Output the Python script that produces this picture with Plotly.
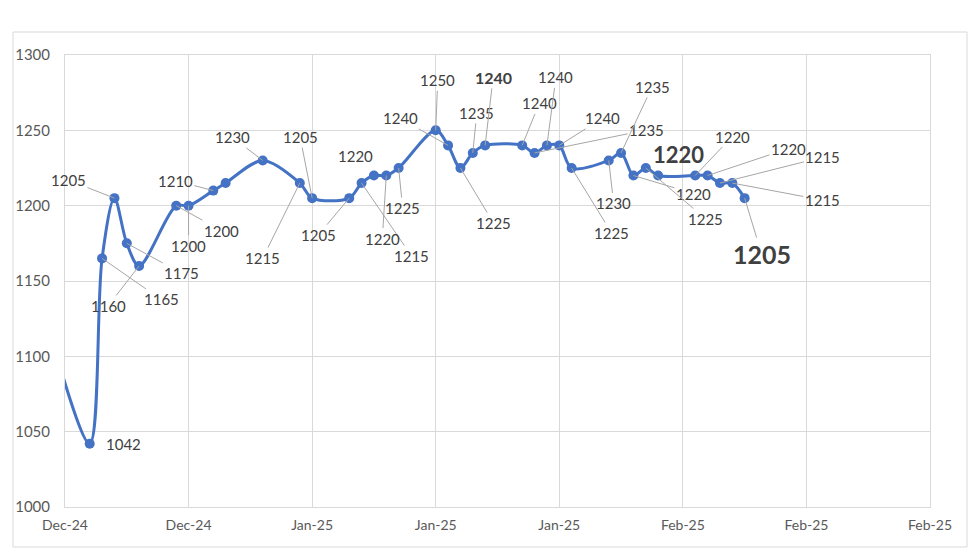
import plotly.graph_objects as go

# ---------------- data ----------------
dates = [
    "2024-12-13", "2024-12-16", "2024-12-17", "2024-12-18", "2024-12-19", "2024-12-20",
    "2024-12-23", "2024-12-24", "2024-12-26", "2024-12-27", "2024-12-30",
    "2025-01-02", "2025-01-03", "2025-01-06", "2025-01-07", "2025-01-08", "2025-01-09",
    "2025-01-10", "2025-01-13", "2025-01-14", "2025-01-15", "2025-01-16", "2025-01-17",
    "2025-01-20", "2025-01-21", "2025-01-22", "2025-01-23", "2025-01-24", "2025-01-27",
    "2025-01-28", "2025-01-29", "2025-01-30", "2025-01-31", "2025-02-03", "2025-02-04",
    "2025-02-05", "2025-02-06", "2025-02-07",
]
prices = [
    1110, 1042, 1165, 1205, 1175, 1160,
    1200, 1200, 1210, 1215, 1230,
    1215, 1205, 1205, 1215, 1220, 1220,
    1225, 1250, 1240, 1225, 1235, 1240,
    1240, 1235, 1240, 1240, 1225, 1230,
    1235, 1220, 1225, 1220, 1220, 1220,
    1215, 1215, 1205,
]
tick_dates = ["2024-12-14", "2024-12-24", "2025-01-03", "2025-01-13",
              "2025-01-23", "2025-02-02", "2025-02-12", "2025-02-22"]
tick_labels = ["Dec-24", "Dec-24", "Jan-25", "Jan-25", "Jan-25", "Feb-25", "Feb-25", "Feb-25"]
y_ticks = [1000, 1050, 1100, 1150, 1200, 1250, 1300]

# ---------------- label placement (pixel offsets, styles) ----------------
# date -> (dx, dy, leader, size, bold)
label_place = {
    "2024-12-16": (34, 0, False, 15, False),
    "2024-12-17": (59, 41, True, 15, False),
    "2024-12-18": (-46, -18, True, 15, False),
    "2024-12-19": (55, 30, True, 15, False),
    "2024-12-20": (-31, 40, True, 15, False),
    "2024-12-23": (45, 25, True, 15, False),
    "2024-12-24": (0, 40, True, 15, False),
    "2024-12-26": (-38, -10, True, 15, False),
    "2024-12-30": (-30, -23, True, 15, False),
    "2025-01-02": (-37, 75, True, 15, False),
    "2025-01-03": (-12, -61, True, 15, False),
    "2025-01-06": (-31, 37, True, 15, False),
    "2025-01-07": (50, 73, True, 15, False),
    "2025-01-08": (-18, -20, False, 15, False),
    "2025-01-09": (-4, 63, True, 15, False),
    "2025-01-10": (4, 40, True, 15, False),
    "2025-01-13": (2, -50, True, 15, False),
    "2025-01-14": (-48, -27, True, 15, False),
    "2025-01-15": (33, 55, True, 15, False),
    "2025-01-16": (4, -40, True, 15, False),
    "2025-01-17": (8, -68, True, 16, True),
    "2025-01-20": (17, -42, True, 15, False),
    "2025-01-21": (112, -23, True, 15, False),
    "2025-01-22": (9, -68, True, 15, False),
    "2025-01-23": (43, -27, True, 15, False),
    "2025-01-24": (40, 65, True, 15, False),
    "2025-01-27": (5, 43, True, 15, False),
    "2025-01-28": (31, -66, True, 15, False),
    "2025-01-29": (60, 18, True, 15, False),
    "2025-01-30": (60, 51, True, 15, False),
    "2025-01-31": (20, -21, False, 22, True),
    "2025-02-03": (37, -39, True, 15, False),
    "2025-02-04": (81, -27, True, 15, False),
    "2025-02-05": (103, -26, True, 15, False),
    "2025-02-06": (90, 17, True, 15, False),
    "2025-02-07": (17, 56, True, 25, True),
}

LINE_COLOR = "#4472C4"
TEXT_COLOR = "#404040"
GRID = "#d9d9d9"

# page has an 8px body margin; figure coordinates are page coordinates minus OFF
OFF = 8
FIG_W, FIG_H = 980 - OFF, 554 - OFF
L, R, T, B = 65 - OFF, 930 - OFF, 55 - OFF, 507 - OFF
W, H = R - L, B - T

fig = go.Figure()
fig.add_trace(go.Scatter(
    x=dates, y=prices, mode="lines+markers",
    line=dict(color=LINE_COLOR, width=3, shape="spline", smoothing=0.9),
    marker=dict(color=LINE_COLOR, size=10),
    hoverinfo="skip", showlegend=False, cliponaxis=True,
))

annotations = []
for d, v in zip(dates, prices):
    if d not in label_place:
        continue
    dx, dy, leader, size, bold = label_place[d]
    txt = f"<b>{v}</b>" if bold else str(v)
    font = dict(family="Lato", size=size, color=TEXT_COLOR)
    if leader:
        annotations.append(dict(
            x=d, y=v, xref="x", yref="y", text=txt, font=font,
            showarrow=True, arrowhead=0, arrowwidth=1, arrowcolor="#a6a6a6",
            ax=dx, ay=dy, standoff=0, startstandoff=0,
        ))
    else:
        annotations.append(dict(
            x=d, y=v, xref="x", yref="y", text=txt, font=font,
            showarrow=False, xshift=dx, yshift=-dy,
        ))

# chart area border (page coords 13..967 x 32..547)
shapes = [dict(
    type="rect", xref="paper", yref="paper",
    x0=(13 - OFF - L) / W, x1=(967 - OFF - L) / W,
    y0=(B - (547 - OFF)) / H, y1=(B - (32 - OFF)) / H,
    line=dict(color=GRID, width=1), fillcolor="rgba(0,0,0,0)", layer="below",
)]

fig.update_layout(
    width=FIG_W, height=FIG_H,
    margin=dict(l=L, r=FIG_W - R, t=T, b=FIG_H - B, autoexpand=False),
    paper_bgcolor="white", plot_bgcolor="white",
    annotations=annotations, shapes=shapes,
    font=dict(family="Lato", color="#595959"),
    xaxis=dict(
        type="date", range=[tick_dates[0], tick_dates[-1]],
        tickmode="array", tickvals=tick_dates, ticktext=tick_labels,
        showgrid=True, gridcolor=GRID, gridwidth=1,
        showline=True, linecolor=GRID, linewidth=1, mirror=True,
        ticks="", zeroline=False, ticklabelstandoff=5, automargin=False,
        tickfont=dict(family="Lato", size=14, color="#595959"),
    ),
    yaxis=dict(
        range=[1000, 1300], tickmode="array", tickvals=y_ticks,
        showgrid=True, gridcolor=GRID, gridwidth=1,
        showline=True, linecolor=GRID, linewidth=1, mirror=True,
        ticks="", zeroline=False, ticklabelstandoff=11, automargin=False,
        tickfont=dict(family="Lato", size=15, color="#595959"),
    ),
)

fig.write_html("out.html")
